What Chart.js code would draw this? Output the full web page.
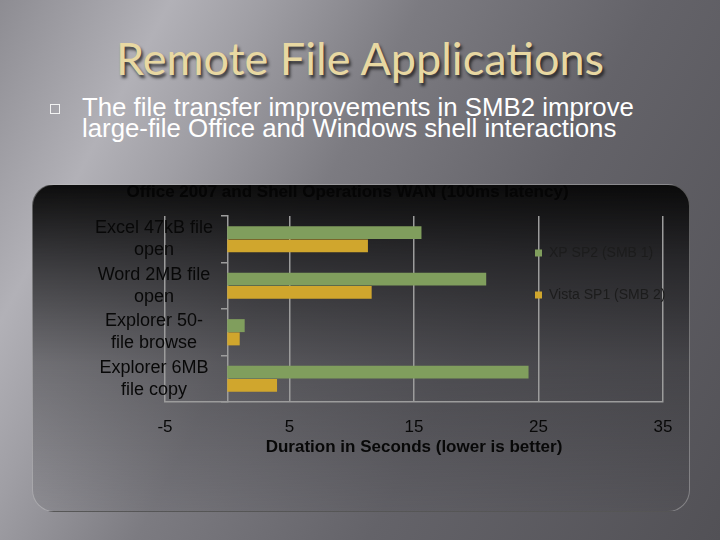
<!DOCTYPE html>
<html>
<head>
<meta charset="utf-8">
<script src="https://cdn.jsdelivr.net/npm/chart.js@4.4.1/dist/chart.umd.min.js"></script>
<style>
  html, body { margin: 0; padding: 0; }
  body {
    width: 720px; height: 540px; overflow: hidden; position: relative;
    background: linear-gradient(118deg, #8d8c92 0%, #b2b1b7 17%, #a09fa5 26%, #7c7b81 42%, #646369 65%, #525156 100%);
    font-family: "Liberation Sans", Arial, sans-serif;
  }
  #title {
    position: absolute; left: 0; width: 720px; top: 31px; text-align: center;
    font-family: Lato, "Open Sans", sans-serif; font-size: 45px; line-height: 54px; color: #e8d8a2;
    text-shadow: 2px 3px 3px rgba(20,20,20,0.75);
    white-space: nowrap;
  }
  #bullet {
    position: absolute; left: 50px; top: 104px; width: 8px; height: 8px;
    border: 1px solid #f2f2f2;
  }
  #text {
    position: absolute; left: 82px; top: 97px; font-size: 25.8px; line-height: 20.5px;
    color: #ffffff; white-space: nowrap;
  }
  #box {
    position: absolute; left: 32px; top: 184px; width: 656px; height: 326px;
    border-radius: 22px;
    border: 1px solid rgba(225,225,225,0.35);
    background: linear-gradient(to bottom, rgba(8,8,8,0.97) 0%, rgba(25,25,27,0.8) 22%, rgba(45,45,48,0.45) 55%, rgba(70,70,74,0.12) 100%);
  }
  #chartWrap { position: absolute; left: 32px; top: 182px; width: 658px; height: 330px; }
</style>
</head>
<body>
<div id="title">Remote File Applications</div>
<div id="bullet"></div>
<div id="text">The file transfer improvements in SMB2 improve<br>large-file Office and Windows shell interactions</div>
<div id="box"></div>
<div id="chartWrap"><canvas id="c" width="658" height="330"></canvas></div>
<script>
const categories = [["Excel 47kB file", "open"], ["Word 2MB file", "open"], ["Explorer 50-", "file browse"], ["Explorer 6MB", "file copy"]];
const seriesNames = ["XP SP2 (SMB 1)", "Vista SP1 (SMB 2)"];
const xpValues = [15.6, 20.8, 1.4, 24.2];
const vistaValues = [11.3, 11.6, 1.0, 4.0];
const tickValues = [-5, 5, 15, 25, 35];
const chartTitle = "Office 2007 and Shell Operations WAN (100ms latency)";
const axisTitle = "Duration in Seconds (lower is better)";

const FONT = "'Liberation Sans', Arial, sans-serif";
const GRID = "#9c9c9c";
const INK = "#080808";

const legendPlace = {
  id: 'legendPlace',
  afterLayout(chart) {
    const l = chart.legend;
    if (!l) return;
    l.left = 475; l.right = 655; l.width = 180;
    l.top = 36; l.bottom = 300; l.height = 264;
  }
};

new Chart(document.getElementById('c'), {
  type: 'bar',
  data: {
    labels: categories,
    datasets: [
      { label: seriesNames[0], data: xpValues, backgroundColor: '#809e5d', borderWidth: 0, xAxisID: 'x', yAxisID: 'y' },
      { label: seriesNames[1], data: vistaValues, backgroundColor: '#d0a62d', borderWidth: 0, xAxisID: 'x', yAxisID: 'y' }
    ]
  },
  options: {
    indexAxis: 'y',
    responsive: false,
    animation: false,
    layout: { padding: { left: 0, right: 27, top: 0, bottom: 54.8 } },
    datasets: { bar: { categoryPercentage: 0.57, barPercentage: 0.98 } },
    scales: {
      x: {
        type: 'linear', min: -5, max: 35,
        afterBuildTicks: (s) => { s.ticks = tickValues.map(v => ({ value: v })); },
        afterFit: (s) => { s.height = 55.2; },
        grid: { color: GRID, lineWidth: 1.5, drawTicks: false },
        border: { display: true, color: GRID, width: 1.5 },
        ticks: { color: INK, font: { family: FONT, size: 17 }, padding: 15, autoSkip: false, maxRotation: 0 },
        title: { display: true, text: axisTitle, color: INK, font: { family: FONT, size: 17, weight: 'bold' }, padding: 0 }
      },
      y: {
        type: 'category',
        position: { x: 0 },
        offset: true,
        grid: { drawOnChartArea: false, drawTicks: true, tickLength: 6, color: GRID, lineWidth: 1.5, offset: true },
        border: { display: true, color: GRID, width: 1.5 },
        ticks: { display: false }
      },
      y2: {
        type: 'category',
        axis: 'y',
        position: 'left',
        offset: true,
        afterFit: (s) => { s.width = 133; },
        grid: { display: false },
        border: { display: false },
        ticks: { color: INK, font: { family: FONT, size: 18, lineHeight: 1.22 }, mirror: true, padding: -70, crossAlign: 'center', autoSkip: false }
      }
    },
    plugins: {
      title: { display: true, text: chartTitle, color: '#050505', font: { family: FONT, size: 17, weight: 'bold' }, padding: { top: 0, bottom: 13.6 } },
      legend: {
        position: 'chartArea', align: 'start',
        labels: { boxWidth: 7, boxHeight: 7, padding: 28, color: '#1c1c1c', font: { family: FONT, size: 14 } }
      },
      tooltip: { enabled: false }
    }
  },
  plugins: [legendPlace]
});
</script>
</body>
</html>
